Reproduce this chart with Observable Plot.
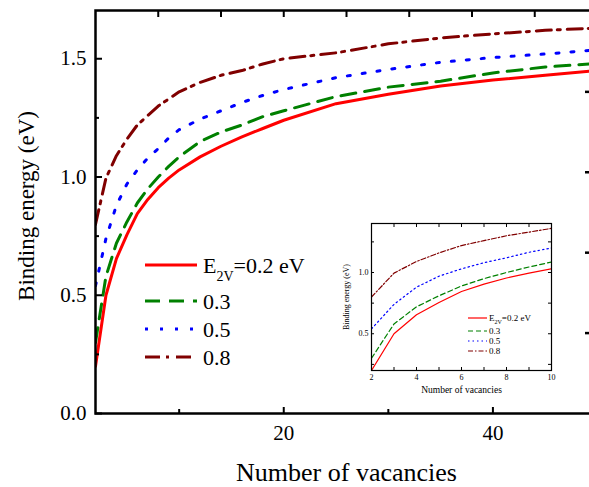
<!DOCTYPE html>
<html><head><meta charset="utf-8">
<script src="https://cdn.jsdelivr.net/npm/d3@7"></script>
<script src="https://cdn.jsdelivr.net/npm/@observablehq/plot@0.6"></script>
<style>
html,body{margin:0;padding:0;background:#fff;overflow:hidden}
#wrap{position:relative;width:589px;height:487px;overflow:hidden;font-family:"Liberation Serif",serif;background:#fff}
#wrap svg{position:absolute;max-width:none}
#wrap svg, #wrap text{font-family:"Liberation Serif",serif !important}
</style></head><body><div id="wrap"></div>
<script>
// ---- data ----
const vacancies = [2,3,4,5,6,7,8,9,10,12,14,16,18,20,25,30,35,40,45,50];
const e02 = [0.20,0.50,0.655,0.755,0.845,0.905,0.955,0.995,1.03,1.085,1.13,1.17,1.205,1.24,1.31,1.35,1.385,1.41,1.43,1.45];
const e03 = [0.30,0.58,0.72,0.81,0.89,0.95,1.00,1.045,1.085,1.15,1.19,1.22,1.255,1.28,1.34,1.38,1.405,1.44,1.465,1.48];
const e05 = [0.54,0.74,0.88,0.97,1.03,1.08,1.12,1.165,1.20,1.245,1.28,1.315,1.345,1.37,1.42,1.455,1.485,1.505,1.52,1.538];
const e08 = [0.80,0.995,1.09,1.16,1.22,1.26,1.30,1.33,1.36,1.40,1.43,1.45,1.478,1.50,1.525,1.563,1.588,1.605,1.62,1.63];
const seriesNames = ["0.2","0.3","0.5","0.8"];
const seriesValues = [e02, e03, e05, e08];
const legendLabels = ["=0.2 eV","0.3","0.5","0.8"];

const yMajorTicks = [0, 0.5, 1.0, 1.5];
const yMinorTicks = [0.25, 0.75, 1.25];
const xMajorTicks = [20, 40];
const xMinorTicks = [10, 30];
const topTicks = [8, 14, 20, 26, 32, 38, 44, 50];
const rightTicks = [0.34, 0.68, 1.02, 1.36];
const insetXLabels = [2, 4, 6, 8, 10];
const insetXTicks = [3, 4, 5, 6, 7, 8, 9];
const insetYLabels = [0.5, 1.0];
const insetYTicks = [0.25, 0.5, 0.75, 1.0, 1.25];

// ---- styles ----
const colors = ["#ff0000", "#008000", "#0000ff", "#800000"];
const dashMain = [null, "15,9", "3,12", "15,6,3,7"];
const dashInset = [null, "5,3", "1.5,3", "5,2,1.5,2"];
const FONT = "Liberation Serif";

const rows = seriesNames.flatMap((s, i) => vacancies.map((n, j) => ({n, e: seriesValues[i][j], s})));

const svgStyle = {fontFamily: FONT, background: "transparent", maxWidth: "none", overflow: "visible"};

const mainLines = seriesNames.map((s, i) => Plot.line(rows.filter(r => r.s === s), {
  x: "n", y: "e", stroke: colors[i], strokeWidth: 3,
  strokeDasharray: dashMain[i] || undefined, clip: true
}));

const main = Plot.plot({
  width: 597, height: 487,
  marginLeft: 95, marginRight: 0, marginTop: 10, marginBottom: 74,
  x: {domain: [2, 50]},
  y: {domain: [0, 1.704]},
  style: svgStyle,
  marks: [
    ...mainLines,
    Plot.frame({strokeWidth: 2.5}),
    Plot.axisY({ticks: yMajorTicks, tickSize: -7, fill: "none", strokeWidth: 2, label: null}),
    Plot.axisY({ticks: yMinorTicks, tickSize: -4, fill: "none", strokeWidth: 2, label: null}),
    Plot.axisY({ticks: yMajorTicks, tickSize: 0, tickPadding: 9, tickFormat: d3.format(".1f"), fontSize: 21, fontFamily: FONT, label: null}),
    Plot.ruleY(rightTicks, {insetLeft: 490, strokeWidth: 2.5}),
    Plot.axisX({ticks: xMajorTicks, tickSize: -6, fill: "none", strokeWidth: 2, label: null}),
    Plot.axisX({ticks: xMinorTicks, tickSize: -4, fill: "none", strokeWidth: 2, label: null}),
    Plot.axisX({ticks: xMajorTicks, tickSize: 0, tickPadding: 12, fontSize: 21, fontFamily: FONT, label: null}),
    Plot.axisX({anchor: "top", ticks: topTicks, tickSize: -6, fill: "none", strokeWidth: 2, label: null}),
    Plot.text(["Binding energy (eV)"], {text: d => d, frameAnchor: "left", rotate: -90, dx: -62, dy: -6, lineAnchor: "bottom", textAnchor: "middle", fontSize: 23, fontFamily: FONT}),
    Plot.text(["Number of vacancies"], {text: d => d, frameAnchor: "bottom", dy: 67, lineAnchor: "bottom", textAnchor: "middle", fontSize: 26, fontFamily: FONT})
  ]
});
main.style.left = "0px"; main.style.top = "0px";
document.getElementById("wrap").appendChild(main);

// ---- inset ----
const insetRows = rows.filter(r => r.n <= 10);
const insetLines = seriesNames.map((s, i) => Plot.line(insetRows.filter(r => r.s === s), {
  x: "n", y: "e", stroke: colors[i], strokeWidth: 1.2,
  strokeDasharray: dashInset[i] || undefined, clip: true
}));
const inset = Plot.plot({
  width: 230, height: 185,
  marginLeft: 41, marginRight: 9, marginTop: 8, marginBottom: 30,
  x: {domain: [2, 10]},
  y: {domain: [0.2, 1.4]},
  style: svgStyle,
  marks: [
    ...insetLines,
    Plot.frame({strokeWidth: 1.2}),
    Plot.axisY({ticks: insetYTicks, tickSize: -3, fill: "none", label: null}),
    Plot.ruleY(insetYTicks, {insetLeft: 177}),
    Plot.axisX({ticks: insetXTicks, tickSize: -3, fill: "none", label: null}),
    Plot.axisX({anchor: "top", ticks: insetXTicks, tickSize: -3, fill: "none", label: null}),
    Plot.axisY({ticks: insetYLabels, tickSize: 0, tickPadding: 3, tickFormat: d3.format(".1f"), fontSize: 8, fontFamily: FONT, label: null}),
    Plot.axisX({ticks: insetXLabels, tickSize: 0, tickPadding: 4, fontSize: 8, fontFamily: FONT, label: null}),
    Plot.text(["Number of vacancies"], {text: d => d, frameAnchor: "bottom", dy: 22, lineAnchor: "bottom", textAnchor: "middle", fontSize: 9.5, fontFamily: FONT}),
    Plot.text(["Binding energy (eV)"], {text: d => d, frameAnchor: "left", rotate: -90, dx: -23, lineAnchor: "bottom", textAnchor: "middle", fontSize: 8, fontFamily: FONT})
  ]
});
inset.style.left = "330px"; inset.style.top = "215px";
document.getElementById("wrap").appendChild(inset);

// ---- legends ----
const leg = d3.select("#wrap").append("svg")
  .attr("width", 589).attr("height", 487)
  .style("left", "0px").style("top", "0px")
  .attr("font-family", FONT);

function legend(g, cfg, dashes) {
  seriesNames.forEach((s, i) => {
    const y = cfg.ys[i];
    g.append("line").attr("x1", cfg.x1).attr("x2", cfg.x2).attr("y1", y).attr("y2", y)
      .attr("stroke", colors[i]).attr("stroke-width", cfg.sw)
      .attr("stroke-dasharray", dashes[i]);
    const t = g.append("text").attr("x", cfg.tx).attr("y", y + cfg.base)
      .attr("font-size", cfg.fs).attr("font-family", FONT).attr("fill", "#000");
    if (i === 0) {
      t.append("tspan").text("E");
      t.append("tspan").attr("font-size", cfg.subFs).attr("dy", cfg.subDy).text("2V");
      t.append("tspan").attr("dy", -cfg.subDy).text(legendLabels[0]);
    } else {
      t.text(legendLabels[i]);
    }
  });
}
legend(leg.append("g"), {ys: [265, 301, 329, 357], x1: 145, x2: 197, tx: 203, base: 8, fs: 22, subFs: 14, subDy: 8, sw: 3}, dashMain);
legend(leg.append("g"), {ys: [318, 331, 341, 351], x1: 468, x2: 487, tx: 489, base: 3, fs: 9, subFs: 6, subDy: 3, sw: 1.2}, dashInset);
</script>
</body></html>
